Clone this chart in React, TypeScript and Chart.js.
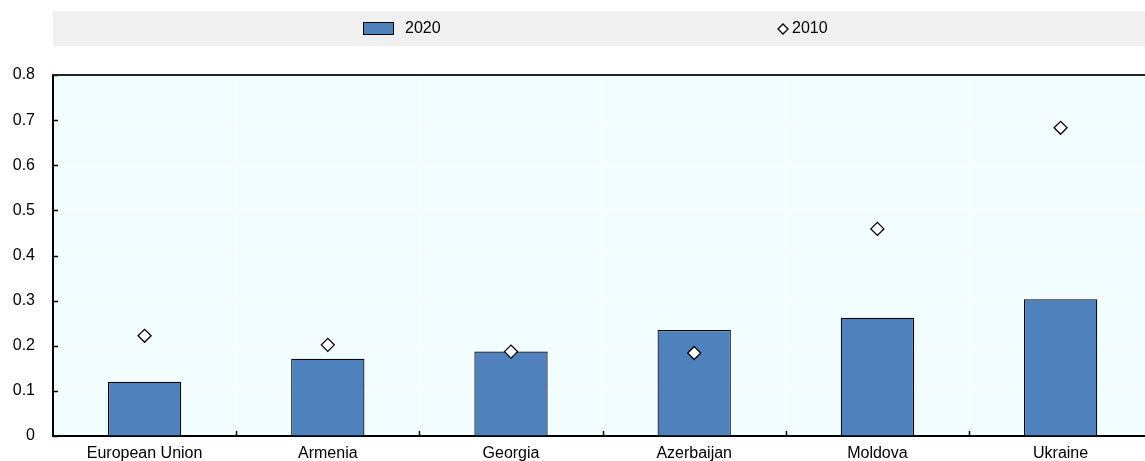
import React, { useEffect, useRef } from "react";
import { Chart, registerables } from "chart.js";

Chart.register(...registerables);

const categories = ["European Union", "Armenia", "Georgia", "Azerbaijan", "Moldova", "Ukraine"];
const values2020 = [0.12, 0.171, 0.187, 0.235, 0.262, 0.303];
const values2010 = [0.222, 0.202, 0.187, 0.184, 0.459, 0.683];
const seriesLabels = ["2020", "2010"];
const yTickValues = [0, 0.1, 0.2, 0.3, 0.4, 0.5, 0.6, 0.7, 0.8];
const yTickLabels = ["0", "0.1", "0.2", "0.3", "0.4", "0.5", "0.6", "0.7", "0.8"];

const FONT = "'Liberation Sans Narrow', 'Arial Narrow', 'Liberation Sans', Arial, sans-serif";
const FONT_SIZE = 16;
const BAR = "#4F81BD";
const PLOT_BG = "#F2FDFF";

function diamond(ctx: CanvasRenderingContext2D, x: number, y: number, r: number) {
  ctx.beginPath();
  ctx.moveTo(x - r, y);
  ctx.lineTo(x, y - r);
  ctx.lineTo(x + r, y);
  ctx.lineTo(x, y + r);
  ctx.closePath();
}

const decor = {
  id: "decor",
  beforeDraw(chart: any) {
    const { ctx, chartArea: a } = chart;
    ctx.save();
    ctx.fillStyle = "#F0F0F0";
    ctx.fillRect(53, 11, chart.width - 53, 35);
    ctx.fillStyle = PLOT_BG;
    ctx.fillRect(a.left, a.top, a.right - a.left, a.bottom - a.top);
    // legend
    ctx.fillStyle = BAR;
    ctx.fillRect(363.5, 22.5, 30, 12);
    ctx.strokeStyle = "#000";
    ctx.lineWidth = 1;
    ctx.strokeRect(363.5, 22.5, 30, 12);
    ctx.font = `${FONT_SIZE}px ${FONT}`;
    ctx.fillStyle = "#000";
    ctx.textBaseline = "middle";
    ctx.textAlign = "left";
    ctx.fillText(seriesLabels[0], 405, 29);
    diamond(ctx, 783, 29, 5);
    ctx.fillStyle = "#fff";
    ctx.fill();
    ctx.lineWidth = 1.3;
    ctx.stroke();
    ctx.fillStyle = "#000";
    ctx.fillText(seriesLabels[1], 792, 29);
    ctx.restore();
  },
  afterDraw(chart: any) {
    const { ctx, chartArea: a } = chart;
    const ys = chart.scales.y;
    ctx.save();
    ctx.strokeStyle = "#000";
    ctx.lineWidth = 1.5;
    const n = categories.length;
    const w = (a.right - a.left) / n;
    for (let i = 1; i < n; i++) {
      const x = Math.round(a.left + i * w) + 0.5;
      ctx.beginPath();
      ctx.moveTo(x, a.bottom);
      ctx.lineTo(x, a.bottom - 5);
      ctx.stroke();
    }
    yTickValues.forEach((v) => {
      const y = Math.round(ys.getPixelForValue(v)) + 0.5;
      ctx.beginPath();
      ctx.moveTo(a.left, y);
      ctx.lineTo(a.left + 5, y);
      ctx.stroke();
    });
    // top frame
    ctx.strokeStyle = "#222";
    ctx.lineWidth = 2;
    ctx.beginPath();
    ctx.moveTo(a.left - 1, a.top);
    ctx.lineTo(a.right, a.top);
    ctx.stroke();
    ctx.restore();
  },
};

export default function App() {
  const ref = useRef<HTMLCanvasElement | null>(null);
  useEffect(() => {
    if (!ref.current) return;
    const chart = new Chart(ref.current, {
      type: "bar",
      data: {
        labels: categories,
        datasets: [
          {
            type: "bar",
            label: seriesLabels[0],
            data: values2020,
            backgroundColor: BAR,
            borderColor: "#000",
            borderWidth: 1.2,
            barPercentage: 0.4,
            categoryPercentage: 1,
            order: 2,
          },
          {
            type: "line",
            label: seriesLabels[1],
            data: values2010,
            showLine: false,
            pointStyle: "rectRot",
            pointRadius: 6.5,
            pointBackgroundColor: "#fff",
            pointBorderColor: "#000",
            pointBorderWidth: 1.3,
            order: 1,
          } as any,
        ],
      },
      options: {
        animation: false,
        responsive: false,
        devicePixelRatio: 1,
        layout: { padding: { top: 75, left: 0, right: 3, bottom: 0 } },
        plugins: { legend: { display: false }, tooltip: { enabled: false } },
        scales: {
          x: {
            offset: true,
            grid: { color: "#fff", lineWidth: 1, offset: true, drawTicks: false },
            border: { color: "#000", width: 2 },
            ticks: { color: "#000", font: { family: FONT, size: FONT_SIZE }, padding: 8, maxRotation: 0, autoSkip: false },
            afterFit: (s: any) => { s.height = 25; },
          },
          y: {
            min: 0,
            max: 0.8,
            grid: { color: "#fff", lineWidth: 1, drawTicks: true, tickLength: 18, tickColor: "rgba(0,0,0,0)" },
            border: { color: "#000", width: 2 },
            afterBuildTicks: (s: any) => { s.ticks = yTickValues.map((v) => ({ value: v })); },
            ticks: {
              color: "#000",
              font: { family: FONT, size: FONT_SIZE },
              padding: 0,
              callback: (_v: any, i: number) => yTickLabels[i],
            },
            afterFit: (s: any) => { s.width = 53; },
          },
        },
      },
      plugins: [decor],
    });
    return () => chart.destroy();
  }, []);
  return (
    <div style={{ position: "fixed", left: 0, top: 0, width: 1145, height: 461, overflow: "hidden", background: "#fff" }}>
      <canvas ref={ref} width={1160} height={461} style={{ width: 1160, height: 461, display: "block" }} />
    </div>
  );
}
